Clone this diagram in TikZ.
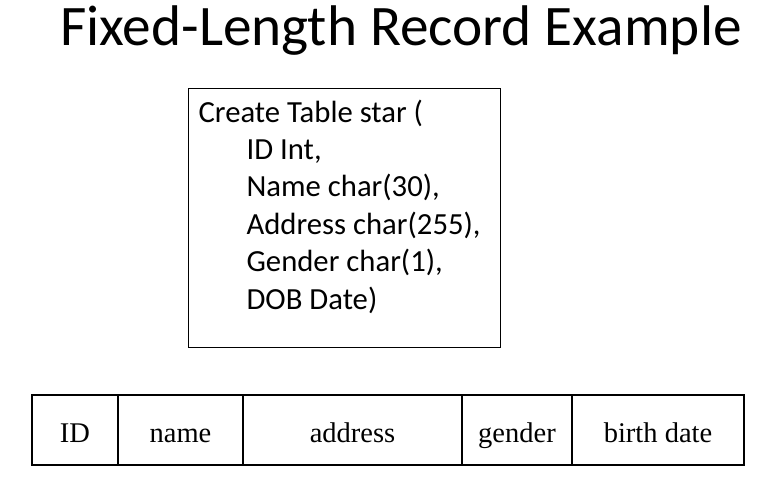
\documentclass[tikz,border=0pt]{standalone}
\usepackage{fontspec}
\setmainfont{Liberation Serif}
\newfontfamily\slidefont{Carlito}
\usetikzlibrary{positioning}

\tikzset{
  field/.style={draw, minimum height=70pt, inner sep=0pt, outer sep=0pt,
    text height=25pt, text depth=0pt, font=\fontsize{28.5}{30}\selectfont},
}

\begin{document}
\begin{tikzpicture}[x=1pt, y=-1pt, line width=1.2pt]
			\useasboundingbox (0,0) rectangle (778,493);
			\node[anchor=base, inner sep=0pt] (title) at (401,45)
			{\slidefont\fontsize{57.3}{60}\selectfont Fixed-Length Record Example};
			\coordinate (S) at (188,88);
			\node[draw, minimum width=312pt, minimum height=259pt, anchor=north west, inner sep=0pt] (sql) at (S) {};
			% base of the last line sits on the given point
			\node[anchor=base west, align=left, inner sep=0pt,
			  font=\slidefont\fontsize{30.7}{37.4}\selectfont] (code) at (198,309)
			{Create Table star (\\
			\hspace*{48pt}ID Int,\\
			\hspace*{48pt}Name char(30),\\
			\hspace*{48pt}Address char(255),\\
			\hspace*{48pt}Gender char(1),\\
			\hspace*{48pt}DOB Date)};
			\coordinate (R) at (32,395);
			\node[field, minimum width=86pt, anchor=north west] (id) at (R) {ID};
			\node[field, minimum width=125pt, right=0pt of id] (name) {name};
			\node[field, minimum width=219pt, right=0pt of name] (address) {address};
			\node[field, minimum width=110pt, right=0pt of address] (gender) {gender};
			\node[field, minimum width=172pt, right=0pt of gender] (dob) {birth date};
\end{tikzpicture}
\end{document}
